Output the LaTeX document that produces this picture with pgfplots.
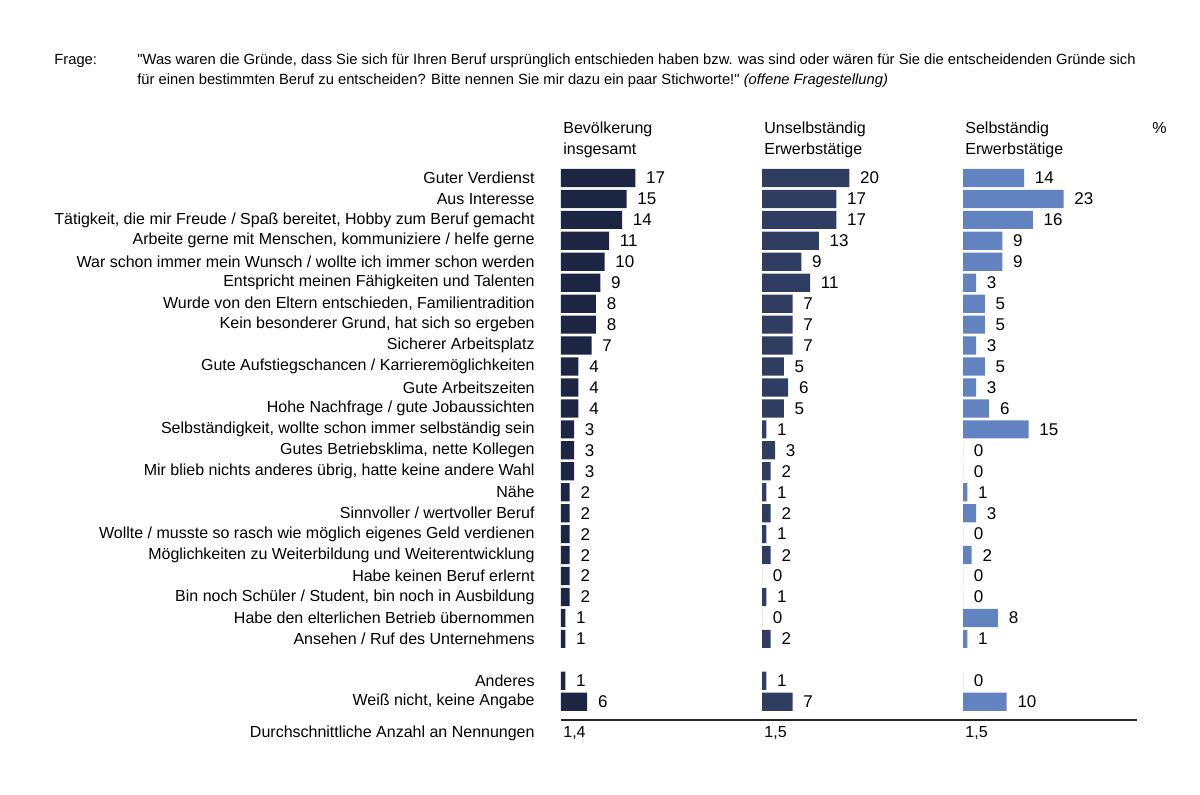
\documentclass[border=0pt]{standalone}
\usepackage{fontspec}
\setmainfont{Liberation Sans}[Ligatures=TeXOff]
\usepackage{pgfplots}
\pgfplotsset{compat=1.18}

\definecolor{barA}{HTML}{1C2541}
\definecolor{barB}{HTML}{2F3D60}
\definecolor{barC}{HTML}{6383C0}
\newcommand\fs{\fontsize{8}{9.6}\selectfont}
\newcommand\ns{\fontsize{8.5}{10}\selectfont}
\newcommand\qs{\fontsize{7.37}{9}\selectfont}

\pgfplotsset{
  panel/.style={
    xbar, scale only axis,
    width=100.5pt, height=272.35pt,
    xmin=0, xmax=46, ymin=-0.5, ymax=25.5, y dir=reverse,
    axis line style={draw=none}, major tick length=0pt,
    xtick=\empty, ytick=\empty,
    bar width=0.87, clip=false,
    /pgf/number format/assume math mode=true,
    nodes near coords,
    nodes near coords style={font=\ns, anchor=west, xshift=5.2pt, text=black},
    every axis plot/.append style={draw=none},
  }
}

\begin{document}
\begin{tikzpicture}[x=0.5pt, y=0.5pt, font=\fs, every node/.style={inner sep=0pt}]
\useasboundingbox (0,0) rectangle (1200,794);

% question
\node[anchor=base west, font=\qs] at (54,729) {Frage:};
\node[anchor=base west, font=\qs] at (137,729) {"Was waren die Gründe, dass Sie sich für Ihren Beruf ursprünglich entschieden haben bzw. was sind oder wären für Sie die entscheidenden Gründe sich};
\node[anchor=base west, font=\qs] at (137,709) {für einen bestimmten Beruf zu entscheiden? Bitte nennen Sie mir dazu ein paar Stichworte!" \textit{(offene Fragestellung)}};

% column heads
\node[anchor=base west] at (563,660) {Bevölkerung};
\node[anchor=base west] at (563,639) {insgesamt};
\node[anchor=base west] at (764,660) {Unselbständig};
\node[anchor=base west] at (764,639) {Erwerbstätige};
\node[anchor=base west] at (965,660) {Selbständig};
\node[anchor=base west] at (965,639) {Erwerbstätige};
\node[anchor=base west] at (1152,660) {\%};

\begin{axis}[panel, at={(280.5pt,313.25pt)}, anchor=north west,
  ytick={0,...,22,24,25},
  yticklabel style={anchor=east, inner sep=0pt, xshift=-13pt, font=\fs},
  yticklabels={Guter Verdienst, Aus Interesse,
    {Tätigkeit, die mir Freude / Spaß bereitet, Hobby zum Beruf gemacht},
    {Arbeite gerne mit Menschen, kommuniziere / helfe gerne},
    War schon immer mein Wunsch / wollte ich immer schon werden,
    Entspricht meinen Fähigkeiten und Talenten,
    {Wurde von den Eltern entschieden, Familientradition},
    {Kein besonderer Grund, hat sich so ergeben},
    Sicherer Arbeitsplatz,
    Gute Aufstiegschancen / Karrieremöglichkeiten,
    Gute Arbeitszeiten,
    Hohe Nachfrage / gute Jobaussichten,
    {Selbständigkeit, wollte schon immer selbständig sein},
    {Gutes Betriebsklima, nette Kollegen},
    {Mir blieb nichts anderes übrig, hatte keine andere Wahl},
    Nähe,
    Sinnvoller / wertvoller Beruf,
    Wollte / musste so rasch wie möglich eigenes Geld verdienen,
    Möglichkeiten zu Weiterbildung und Weiterentwicklung,
    Habe keinen Beruf erlernt,
    {Bin noch Schüler / Student, bin noch in Ausbildung},
    Habe den elterlichen Betrieb übernommen,
    Ansehen / Ruf des Unternehmens,
    Anderes,
    {Weiß nicht, keine Angabe}},
]
\addplot[fill=barA] coordinates {
  (17,0) (15,1) (14,2) (11,3) (10,4) (9,5) (8,6) (8,7) (7,8) (4,9) (4,10) (4,11)
  (3,12) (3,13) (3,14) (2,15) (2,16) (2,17) (2,18) (2,19) (2,20) (1,21) (1,22)
  (1,24) (6,25)};
\end{axis}

\begin{axis}[panel, at={(381pt,313.25pt)}, anchor=north west]
\addplot[fill=barB] coordinates {
  (20,0) (17,1) (17,2) (13,3) (9,4) (11,5) (7,6) (7,7) (7,8) (5,9) (6,10) (5,11)
  (1,12) (3,13) (2,14) (1,15) (2,16) (1,17) (2,18) (0,19) (1,20) (0,21) (2,22)
  (1,24) (7,25)};
\end{axis}

\begin{axis}[panel, at={(481.5pt,313.25pt)}, anchor=north west]
\addplot[fill=barC] coordinates {
  (14,0) (23,1) (16,2) (9,3) (9,4) (3,5) (5,6) (5,7) (3,8) (5,9) (3,10) (6,11)
  (15,12) (0,13) (0,14) (1,15) (3,16) (0,17) (2,18) (0,19) (0,20) (8,21) (1,22)
  (0,24) (10,25)};
\end{axis}

% bottom rule and averages
\draw[line width=0.8pt, black!85] (561,74) -- (1137,74);
\node[anchor=base east] at (535,57) {Durchschnittliche Anzahl an Nennungen};
\node[anchor=base west] at (563,57) {1,4};
\node[anchor=base west] at (764,57) {1,5};
\node[anchor=base west] at (965,57) {1,5};
\end{tikzpicture}
\end{document}
